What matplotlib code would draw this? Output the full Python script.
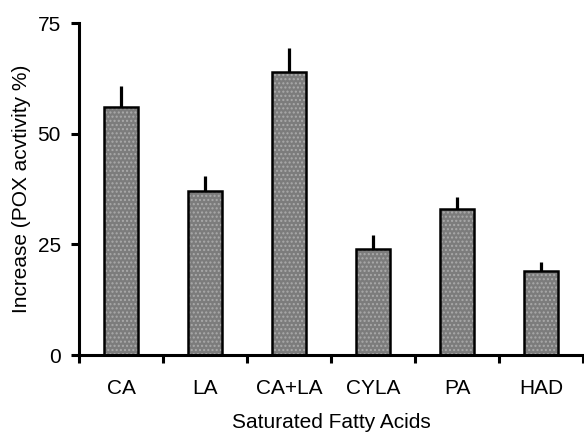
import numpy as np
import matplotlib
matplotlib.use('Agg')
import matplotlib.pyplot as plt

plt.rcParams['font.family'] = ['Liberation Sans', 'DejaVu Sans']
plt.rcParams['hatch.linewidth'] = 1.0

acids = ['CA', 'LA', 'CA+LA', 'CYLA', 'PA', 'HAD']
increase = [56, 37, 64, 24, 33, 19]
err_up = [4.7, 3.5, 5.4, 3.2, 2.7, 2.0]

x = np.arange(len(acids))

fig = plt.figure(figsize=(5.84, 4.32), dpi=100)
ax = fig.add_axes([0.1353, 0.1782, 0.863, 0.7685])

# grey dotted fill, then a black outline on top
ax.bar(x, increase, width=0.4, color='#7c7c7c', edgecolor='#aaaaaa',
       hatch='....', linewidth=0, zorder=2)
ax.bar(x, increase, width=0.4, fill=False, edgecolor='black',
       linewidth=1.8, zorder=3)
ax.errorbar(x, increase, yerr=[np.zeros(len(x)), err_up], fmt='none',
            ecolor='black', elinewidth=2.3, capsize=0, zorder=1)

ax.set_xlim(-0.5, len(acids) - 0.5)
ax.set_ylim(0, 75)
ax.set_yticks([0, 25, 50, 75])
ax.set_xticks(np.arange(-0.5, len(acids), 1.0))
ax.set_xticklabels([])
ax.set_xticks(x, minor=True)
ax.set_xticklabels(acids, minor=True)

for s in ['top', 'right']:
    ax.spines[s].set_visible(False)
for s in ['left', 'bottom']:
    ax.spines[s].set_linewidth(2.2)

ax.tick_params(axis='both', which='major', direction='out', length=6,
               width=2.2, labelsize=15, pad=7)
ax.tick_params(axis='x', which='minor', length=0, labelsize=15, pad=17)

ax.set_xlabel('Saturated Fatty Acids', fontsize=15, labelpad=11)
ax.set_ylabel('Increase (POX acvtivity %)', fontsize=15, labelpad=5)

plt.savefig('out.png', dpi=100)
